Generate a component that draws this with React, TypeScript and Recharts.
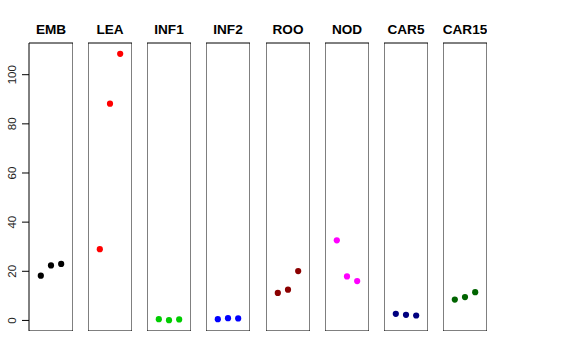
import React from 'react';
import { ScatterChart, Scatter, XAxis, YAxis, ReferenceArea } from 'recharts';

const panels = ['EMB', 'LEA', 'INF1', 'INF2', 'ROO', 'NOD', 'CAR5', 'CAR15'];
const colors = ['#000000', '#FF0000', '#00CD00', '#0000FF', '#8B0000', '#FF00FF', '#000080', '#006400'];
const reps = [1, 2, 3];
const embValues = [18.2, 22.4, 23.0];
const leaValues = [29.0, 88.2, 108.5];
const inf1Values = [0.5, 0.1, 0.4];
const inf2Values = [0.5, 0.9, 0.8];
const rooValues = [11.2, 12.5, 20.1];
const nodValues = [32.6, 17.9, 16.0];
const car5Values = [2.7, 2.3, 2.0];
const car15Values = [8.5, 9.5, 11.5];
const yTicks = [0, 20, 40, 60, 80, 100];

const allValues = [embValues, leaValues, inf1Values, inf2Values, rooValues, nodValues, car5Values, car15Values];

const X_DOMAIN: [number, number] = [-0.16, 4.16];
const Y_DOMAIN: [number, number] = [-4.3, 112.9];

const FONT = '"Liberation Sans", Arial, Helvetica, sans-serif';
const PLOT_TOP = 43;
const PLOT_BOTTOM = 331;
const PANEL_W = 44;
const AXIS_W = 29;
const PITCH = 59.14;

const Dot = (props: any) => {
  const { cx, cy, fill } = props;
  if (cx == null || cy == null) return null;
  return <circle cx={cx} cy={cy} r={3.1} fill={fill} stroke="none" />;
};

const YTick = (props: any) => {
  const { y, payload } = props;
  return (
    <text
      x={16}
      y={y}
      transform={`rotate(-90, 16, ${y})`}
      textAnchor="middle"
      fontSize={11.5}
      fontFamily={FONT}
      fill="#222"
    >
      {payload.value}
    </text>
  );
};

function Panel({ index }: { index: number }) {
  const first = index === 0;
  const data = reps.map((r, i) => ({ x: r, y: allValues[index][i] }));
  const width = first ? AXIS_W + PANEL_W : PANEL_W;
  const left = first ? 0 : AXIS_W + index * PITCH;
  return (
    <div style={{ position: 'absolute', left, top: 0 }}>
      <ScatterChart
        width={width}
        height={PLOT_BOTTOM}
        margin={{ top: PLOT_TOP, right: 0, bottom: 0, left: 0 }}
        style={{ overflow: 'visible' }}
      >
        <XAxis type="number" dataKey="x" domain={X_DOMAIN} hide />
        {first ? (
          <YAxis
            type="number"
            dataKey="y"
            domain={Y_DOMAIN}
            ticks={yTicks}
            width={AXIS_W}
            axisLine={false}
            tickSize={7}
            tickLine={{ stroke: '#000', strokeWidth: 1 }}
            tick={<YTick />}
            interval={0}
          />
        ) : (
          <YAxis type="number" dataKey="y" domain={Y_DOMAIN} hide />
        )}
        <ReferenceArea
          x1={X_DOMAIN[0]}
          x2={X_DOMAIN[1]}
          y1={Y_DOMAIN[0]}
          y2={Y_DOMAIN[1]}
          fill="none"
          fillOpacity={0}
          stroke="#000"
          strokeWidth={1}
          ifOverflow="visible"
          label={{
            value: panels[index],
            position: 'top',
            offset: 9,
            style: { fontSize: 13.6, fontWeight: 'bold', fontFamily: FONT, fill: '#000' },
          }}
        />
        <Scatter data={data} fill={colors[index]} shape={<Dot />} isAnimationActive={false} />
      </ScatterChart>
    </div>
  );
}

export default function App() {
  return (
    <div style={{ position: 'absolute', left: 0, top: 0, width: 576, height: 360, background: '#fff' }}>
      {panels.map((p, i) => (
        <Panel key={p} index={i} />
      ))}
    </div>
  );
}
